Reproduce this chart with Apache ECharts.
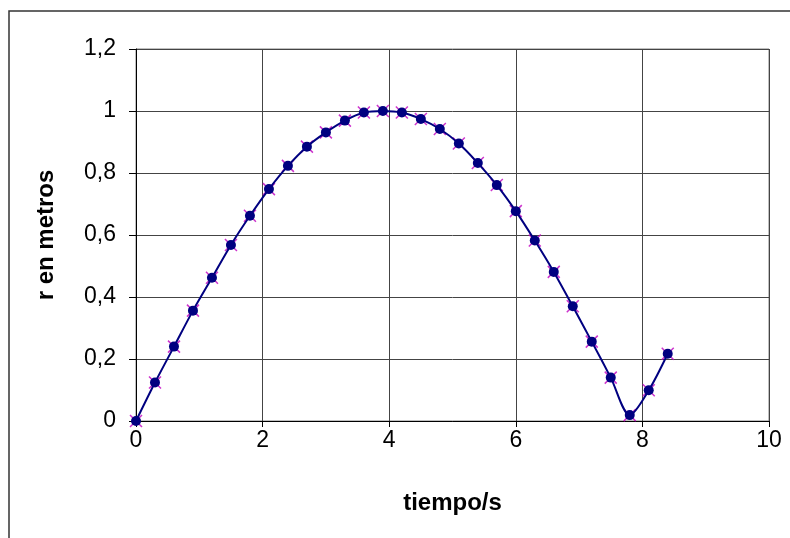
<!DOCTYPE html>
<html><head><meta charset="utf-8">
<script src="https://cdn.jsdelivr.net/npm/echarts@6/dist/echarts.min.js"></script>
<style>html,body{margin:0;padding:0;background:#fff}#c{width:790px;height:538px}</style>
</head><body><div id="c"></div>
<script>
const tiempo = [0,0.3,0.6,0.9,1.2,1.5,1.8,2.1,2.4,2.7,3.0,3.3,3.6,3.9,4.2,4.5,4.8,5.1,5.4,5.7,6.0,6.3,6.6,6.9,7.2,7.5,7.8,8.1,8.4];
const rMetros = [0,0.124,0.24,0.356,0.462,0.568,0.662,0.748,0.823,0.885,0.931,0.969,0.995,1.0,0.995,0.974,0.942,0.895,0.832,0.761,0.677,0.582,0.481,0.370,0.256,0.140,0.019,0.099,0.217];
const xTitle = 'tiempo/s';
const yTitle = 'r en metros';
const pts = tiempo.map((t,i)=>[t,rMetros[i]]);
const chart = echarts.init(document.getElementById('c'));
const font = 'Liberation Sans, Arial, sans-serif';
chart.setOption({
  animation:false,
  backgroundColor:'#fff',
  graphic:[{type:'rect',shape:{x:9,y:11,width:900,height:700},style:{fill:'none',stroke:'#333',lineWidth:1.5}}],
  grid:{left:136,right:21,top:49,bottom:117,show:true,borderColor:'#808080',borderWidth:1},
  xAxis:{type:'value',min:0,max:10,interval:2,
    name:xTitle,nameLocation:'middle',nameGap:70,
    nameTextStyle:{fontFamily:font,fontSize:24,fontWeight:'bold',color:'#000'},
    axisLine:{lineStyle:{color:'#000',width:1}},
    axisTick:{show:true,length:6,lineStyle:{color:'#000'}},
    axisLabel:{fontFamily:font,fontSize:23,color:'#000',margin:8,formatter:v=>String(v).replace('.',',')},
    splitLine:{show:true,lineStyle:{color:'#444',width:1}}},
  yAxis:{type:'value',min:0,max:1.2,interval:0.2,
    name:yTitle,nameLocation:'middle',nameGap:78,
    nameTextStyle:{fontFamily:font,fontSize:24,fontWeight:'bold',color:'#000'},
    axisLine:{show:true,lineStyle:{color:'#000',width:1}},
    axisTick:{show:true,length:7,lineStyle:{color:'#000'}},
    axisLabel:{fontFamily:font,fontSize:23,color:'#000',margin:20,formatter:v=>String(Math.round(v*10)/10).replace('.',',')},
    splitLine:{show:true,lineStyle:{color:'#444',width:1}}},
  series:[
    {type:'scatter',data:pts,symbol:'path://M0,0L10,10M10,0L0,10',symbolSize:12,
     itemStyle:{color:'none',borderColor:'#c000c0',borderWidth:1.5},z:2},
    {type:'line',data:pts,smooth:0.3,symbol:'circle',symbolSize:10,showSymbol:true,
     lineStyle:{color:'#000080',width:2},itemStyle:{color:'#000080',borderWidth:0},z:3}
  ]
});
</script></body></html>
